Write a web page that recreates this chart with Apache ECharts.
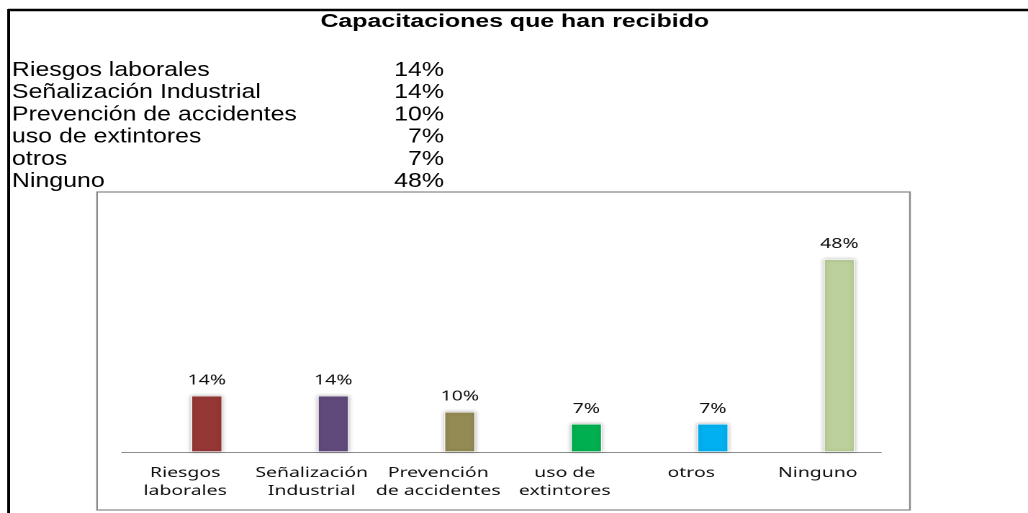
<!DOCTYPE html>
<html>
<head>
<meta charset="utf-8">
<script src="https://cdn.jsdelivr.net/npm/echarts@6/dist/echarts.min.js"></script>
<style>
  html, body { margin: 0; padding: 0; background: #fff; overflow: hidden; }
  /* the source sheet is stretched sideways, so the chart is drawn narrow and widened */
  #chart { width: 714px; height: 513px; transform: scaleX(1.43978); transform-origin: 0 0; }
</style>
</head>
<body>
<div id="chart"></div>
<script>
const categories = ["Riesgos laborales", "Señalización Industrial", "Prevención de accidentes", "uso de extintores", "otros", "Ninguno"];
const axisLabels = ["Riesgos\nlaborales", "Señalización\nIndustrial", "Prevención\nde accidentes", "uso de\nextintores", "otros", "Ninguno"];
const values = [14, 14, 10, 7, 7, 48];
const barColors = ["#953735", "#604A7B", "#948A54", "#00B050", "#00B0F0", "#BBD09A"];
const titleText = "Capacitaciones que han recibido";

const chart = echarts.init(document.getElementById("chart"), null, { devicePixelRatio: 2 });

const sheetFont = "17.3px 'Liberation Sans', Arial";

// table of values above the chart
const tableText = [];
categories.forEach((name, i) => {
  const y = 70.5 + i * 22.2;
  tableText.push({
    type: "text", z: 0, x: 8.3, y: y, scaleY: 1.15,
    style: { text: name, fill: "#000", font: sheetFont, textVerticalAlign: "middle" },
  });
  tableText.push({
    type: "text", z: 0, x: 308.4, y: y, scaleY: 1.15,
    style: { text: values[i] + "%", fill: "#000", font: sheetFont, textAlign: "right", textVerticalAlign: "middle" },
  });
});

const options = {
  animation: false,
  graphic: [
    { type: "line", z: 0, shape: { x1: 5.6, y1: 10, x2: 714, y2: 10 }, style: { stroke: "#000", lineWidth: 2.5 } },
    { type: "line", z: 0, shape: { x1: 6, y1: 9, x2: 6, y2: 513 }, style: { stroke: "#000", lineWidth: 2 } },
    {
      type: "text", z: 0, x: 357.5, y: 22, scaleY: 1.08,
      style: { text: titleText, fill: "#000", font: "bold 17.3px 'Liberation Sans', Arial", textAlign: "center", textVerticalAlign: "middle" },
    },
    ...tableText,
    { type: "rect", z: 1, shape: { x: 67.4, y: 192, width: 564.6, height: 318 }, style: { fill: "#fff", stroke: "#8a8a8a", lineWidth: 1.2 } },
  ],
  grid: [
    { left: 84.7, width: 527.2, top: 211.2, height: 240.8 },
    { left: 99.7, width: 527.2, top: 211.2, height: 240.8 },
  ],
  xAxis: [
    {
      gridIndex: 0,
      type: "category",
      data: axisLabels,
      z: 5,
      axisLine: { lineStyle: { color: "#8c8c8c", width: 1 } },
      axisTick: { show: false },
      axisLabel: {
        interval: 0,
        margin: 12,
        lineHeight: 18,
        fontFamily: "'Noto Sans', sans-serif",
        fontSize: 13.5,
        color: "#111",
      },
    },
    { gridIndex: 1, type: "category", data: categories, show: false },
  ],
  yAxis: [
    { gridIndex: 0, type: "value", min: 0, max: 60, show: false },
    { gridIndex: 1, type: "value", min: 0, max: 60, show: false },
  ],
  series: [
    {
      type: "bar",
      xAxisIndex: 1,
      yAxisIndex: 1,
      z: 5,
      barWidth: 21.5,
      data: values.map((v, i) => ({ value: v, itemStyle: { color: barColors[i] } })),
      itemStyle: {
        borderColor: "#ffffff",
        borderWidth: 0.6,
        shadowColor: "rgba(0, 0, 0, 0.3)",
        shadowBlur: 3,
      },
      label: {
        show: true,
        position: "top",
        distance: 8,
        formatter: "{c}%",
        fontFamily: "'Noto Sans', sans-serif",
        fontSize: 13.5,
        color: "#111",
      },
    },
  ],
};

chart.setOption(options);
</script>
</body>
</html>
